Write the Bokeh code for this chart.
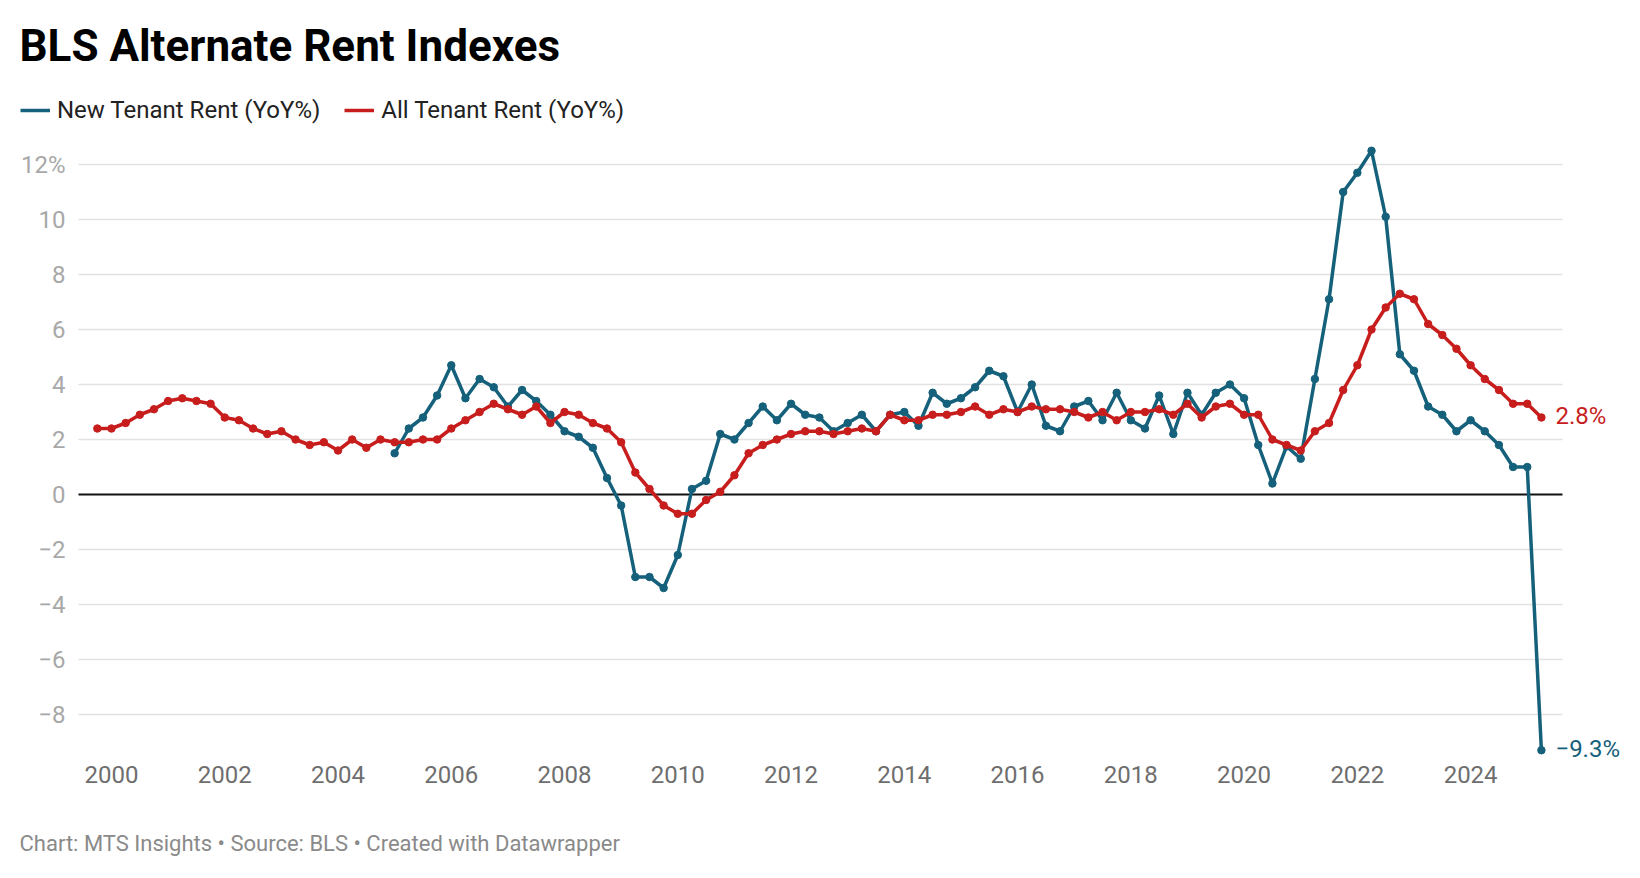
from bokeh.plotting import figure
from bokeh.models import Label, Legend, LegendItem, Range1d, ColumnDataSource
from bokeh.core.properties import value
from bokeh.embed import file_html
from bokeh.resources import INLINE

# ---------------- data (quarterly YoY %) ----------------
all_start_year, all_start_q = 1999, 4
all_tenant = [2.4, 2.4, 2.6, 2.9, 3.1, 3.4, 3.5, 3.4, 3.3, 2.8, 2.7, 2.4, 2.2, 2.3, 2.0, 1.8, 1.9, 1.6, 2.0, 1.7, 2.0,
              1.9, 1.9, 2.0, 2.0, 2.4, 2.7, 3.0, 3.3, 3.1, 2.9, 3.2, 2.6, 3.0, 2.9, 2.6, 2.4, 1.9,
              0.8, 0.2, -0.4, -0.7, -0.7, -0.2, 0.1, 0.7, 1.5, 1.8,
              2.0, 2.2, 2.3, 2.3, 2.2, 2.3, 2.4, 2.3, 2.9, 2.7, 2.7, 2.9, 2.9, 3.0, 3.2, 2.9, 3.1,
              3.0, 3.2, 3.1, 3.1, 3.0, 2.8, 3.0, 2.7, 3.0, 3.0, 3.1, 2.9, 3.3, 2.8, 3.2, 3.3, 2.9, 2.9,
              2.0, 1.8, 1.6, 2.3, 2.6, 3.8, 4.7, 6.0, 6.8, 7.3, 7.1, 6.2, 5.8, 5.3, 4.7, 4.2, 3.8, 3.3, 3.3, 2.8]

new_start_year, new_start_q = 2005, 1
new_tenant = [1.5, 2.4, 2.8, 3.6, 4.7, 3.5, 4.2, 3.9, 3.2, 3.8, 3.4, 2.9, 2.3, 2.1, 1.7, 0.6, -0.4,
              -3.0, -3.0, -3.4, -2.2, 0.2, 0.5, 2.2, 2.0, 2.6, 3.2,
              2.7, 3.3, 2.9, 2.8, 2.3, 2.6, 2.9, 2.3, 2.9, 3.0, 2.5, 3.7, 3.3, 3.5, 3.9, 4.5, 4.3,
              3.0, 4.0, 2.5, 2.3, 3.2, 3.4, 2.7, 3.7, 2.7, 2.4, 3.6, 2.2, 3.7, 2.9, 3.7, 4.0, 3.5, 1.8,
              0.4, 1.75, 1.3, 4.2, 7.1, 11.0, 11.7, 12.5, 10.1, 5.1, 4.5, 3.2, 2.9, 2.3, 2.7, 2.3, 1.8, 1.0, 1.0, -9.3]

x_tick_years = [2000, 2002, 2004, 2006, 2008, 2010, 2012, 2014, 2016, 2018, 2020, 2022, 2024]
x_tick_labels = ["2000", "2002", "2004", "2006", "2008", "2010", "2012", "2014", "2016", "2018", "2020", "2022", "2024"]
y_ticks = [-8, -6, -4, -2, 0, 2, 4, 6, 8, 10, 12]
y_tick_labels = ["\u22128", "\u22126", "\u22124", "\u22122", "0", "2", "4", "6", "8", "10", "12%"]

title_text = "BLS Alternate Rent Indexes"
new_name = "New Tenant Rent (YoY%)"
all_name = "All Tenant Rent (YoY%)"
footer_text = "Chart: MTS Insights \u2022 Source: BLS \u2022 Created with Datawrapper"

BLUE = "#15607a"
RED = "#c71e1d"
FONT = "Roboto"


def quarter_x(start_year, start_q, n):
    return [start_year + (start_q - 1 + k) / 4.0 for k in range(n)]


all_x = quarter_x(all_start_year, all_start_q, len(all_tenant))
new_x = quarter_x(new_start_year, new_start_q, len(new_tenant))

# ---------------- layout (frame = whole canvas) ----------------
W, H = 1624, 862
PXX = 56.63          # px per year
PXY = 27.5           # px per percentage point
X_AT_2000 = 111      # px of the 2000 tick
Y_AT_0 = 494         # px of the zero line
X0 = 2000 - X_AT_2000 / PXX
X1 = X0 + W / PXX
Y1 = Y_AT_0 / PXY
Y0 = Y1 - H / PXY


def dx(px):
    return X0 + px / PXX


def dy(py):
    return Y1 - py / PXY


p = figure(width=W, height=H, output_backend="svg", toolbar_location=None,
           x_range=Range1d(X0, X1), y_range=Range1d(Y0, Y1),
           min_border=0, min_border_left=0, min_border_right=0, min_border_top=0, min_border_bottom=0,
           background_fill_color="white", border_fill_color="white")
p.outline_line_color = None
p.xaxis.visible = False
p.yaxis.visible = False
p.xgrid.grid_line_color = None
p.ygrid.grid_line_color = None

GRID_L, GRID_R = 78, 1562

# horizontal gridlines (zero line drawn darker)
grid_vals = [v for v in y_ticks if v != 0]
p.segment(x0=[dx(GRID_L)] * len(grid_vals), x1=[dx(GRID_R)] * len(grid_vals), y0=grid_vals, y1=grid_vals,
          line_color="#e2e2e2", line_width=1.5)
p.segment(x0=[dx(GRID_L)], x1=[dx(GRID_R)], y0=[0], y1=[0], line_color="#111111", line_width=2)

# tick labels
p.text(x=[dx(65)] * len(y_ticks), y=y_ticks, text=y_tick_labels, text_font=value(FONT),
       text_font_size="24px", text_color="#a8a8a8", text_align="right", text_baseline="middle")
p.text(x=x_tick_years, y=[dy(774)] * len(x_tick_years), text=x_tick_labels, text_font=value(FONT),
       text_font_size="24px", text_color="#6e6e6e", text_align="center", text_baseline="middle")

src_all = ColumnDataSource(dict(x=all_x, y=all_tenant))
src_new = ColumnDataSource(dict(x=new_x, y=new_tenant))

l_new = p.line("x", "y", source=src_new, line_color=BLUE, line_width=3.5, line_join="round")
p.scatter("x", "y", source=src_new, size=7.5, fill_color=BLUE, line_color=BLUE)
l_all = p.line("x", "y", source=src_all, line_color=RED, line_width=3.5, line_join="round")
p.scatter("x", "y", source=src_all, size=7.5, fill_color=RED, line_color=RED)

# end labels
p.add_layout(Label(x=all_x[-1], y=all_tenant[-1], x_offset=14, y_offset=2, text=f"{all_tenant[-1]:.1f}%",
                   text_font=FONT, text_font_size="24px", text_color=RED, text_baseline="middle"))
p.add_layout(Label(x=new_x[-1], y=new_tenant[-1], x_offset=14, y_offset=1,
                   text=f"{new_tenant[-1]:.1f}%".replace("-", "\u2212"),
                   text_font=FONT, text_font_size="24px", text_color=BLUE, text_baseline="middle"))

# title
p.add_layout(Label(x=dx(19), y=dy(45), text=title_text, text_font=FONT, text_font_size="44px",
                   text_font_style="bold", text_color="#000000", text_baseline="middle"))
# footer
p.add_layout(Label(x=dx(19), y=dy(843), text=footer_text, text_font=FONT, text_font_size="22px",
                   text_color="#8a8a8a", text_baseline="middle"))

# legend
legend = Legend(items=[LegendItem(label=new_name, renderers=[l_new]),
                       LegendItem(label=all_name, renderers=[l_all])],
                orientation="horizontal", location=(20, H - 125.3),
                padding=0, margin=0, spacing=24, label_standoff=7,
                glyph_width=30, glyph_height=30, label_height=30,
                label_text_font=FONT, label_text_font_size="24px", label_text_color="#222222",
                border_line_color=None, background_fill_alpha=0)
p.add_layout(legend, "center")

open("out.html", "w").write(file_html(p, INLINE))
